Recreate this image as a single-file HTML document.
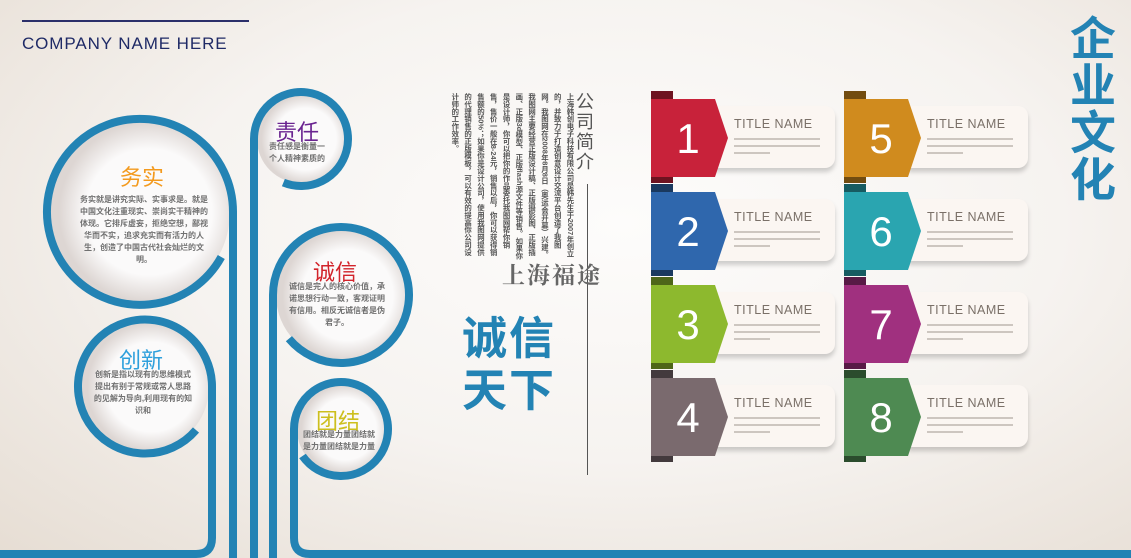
<!DOCTYPE html>
<html><head><meta charset="utf-8"><style>
*{margin:0;padding:0;box-sizing:border-box}
body{width:1131px;height:558px;overflow:hidden;position:relative;font-family:"Liberation Sans","Noto Sans CJK SC",sans-serif;
background:radial-gradient(ellipse at 55% 40%,#fdfcfb 0%,#f6f3f0 50%,#e6ddd3 100%);}
.abs{position:absolute}
.card{position:absolute;width:120px;height:62px;background:#fbf6f2;border-radius:0 10px 10px 0;box-shadow:0 4px 5px rgba(0,0,0,0.18)}
.card .t{position:absolute;left:19px;top:11px;font-size:12.5px;color:#7a7068;letter-spacing:0.5px}
.card .l{position:absolute;left:19px;height:2px;background:#cdc6c0}
.num{position:absolute;color:#fff;font-size:42px;width:62px;text-align:center;font-family:"Liberation Sans",sans-serif}
.ct{position:absolute;font-size:8px;color:#707070;font-weight:bold;text-align:center;line-height:12px}
</style></head><body>
<div class="abs" style="left:22px;top:20px;width:227px;height:2px;background:#2b2f6a"></div>
<div class="abs" style="left:22px;top:34px;font-size:17px;color:#1f2a66;letter-spacing:0.9px">COMPANY NAME HERE</div>

<svg class="abs" style="left:0;top:0" width="1131" height="558">
<defs>
<radialGradient id="g" cx="0.55" cy="0.5" r="0.5"><stop offset="0.7" stop-color="#fbfafa"/><stop offset="1" stop-color="#ddd6d3"/></radialGradient>
</defs>
<g fill="url(#g)">
<circle cx="140" cy="212" r="90"/><circle cx="145" cy="387" r="64"/><circle cx="301" cy="139" r="44"/><circle cx="341" cy="295" r="65"/><circle cx="341" cy="429" r="44"/>
</g>
<g fill="none" stroke="#2383b4" stroke-width="8">
<path d="M221.3 257 A93 93 0 1 1 233 212 L233 558"/>
<path d="M196 430 A67 67 0 1 1 212 387 L212 538 Q212 554 196 554 L0 554"/>
<path d="M283.4 182.6 A47 47 0 1 0 254 139 L254 558"/>
<path d="M288.9 338.7 A68 68 0 1 0 273 295 L273 558"/>
<path d="M302.5 456 A47 47 0 1 0 294 429 L294 538 Q294 554 310 554 L1131 554"/>
</g>
</svg>

<div class="abs" style="left:120px;top:160px;font-size:22px;color:#f39a1e">务实</div>
<div class="ct" style="left:80px;top:194px;width:128px">务实就是讲究实际、实事求是。就是中国文化注重现实、崇尚实干精神的体现。它排斥虚妄，拒绝空想，鄙视华而不实，追求充实而有活力的人生，创造了中国古代社会灿烂的文明。</div>
<div class="abs" style="left:119px;top:343px;font-size:22px;color:#2fa0dc">创新</div>
<div class="ct" style="left:93px;top:369px;width:100px">创新是指以现有的思维模式提出有别于常规或常人思路的见解为导向,利用现有的知识和</div>
<div class="abs" style="left:275px;top:115px;font-size:22px;color:#6a2490">责任</div>
<div class="ct" style="left:269px;top:141px;width:62px;text-align:left">责任感是衡量一个人精神素质的</div>
<div class="abs" style="left:313px;top:255px;font-size:22px;color:#d2232a">诚信</div>
<div class="ct" style="left:288px;top:281px;width:98px">诚信是完人的核心价值，承诺思想行动一致，客观证明有信用。相反无诚信者是伪君子。</div>
<div class="abs" style="left:316px;top:404px;font-size:22px;color:#cdbf1e">团结</div>
<div class="ct" style="left:302px;top:429px;width:74px">团结就是力量团结就是力量团结就是力量</div>

<div class="abs" style="left:1070px;top:16px;width:52px;font-size:46px;line-height:47px;color:#2383b4;font-weight:bold">企业文化</div>

<div class="abs" style="left:576px;top:92px;width:22px;font-size:18px;line-height:20px;color:#555">公司简介</div>
<div class="abs" style="left:587px;top:184px;width:1px;height:291px;background:#555"></div>
<div class="abs" style="left:440px;top:93px;width:136px;height:168px;writing-mode:vertical-rl;font-size:7.4px;line-height:12.8px;color:#555;font-weight:bold">上海韩创电子科技有限公司是韩先生于2007年创立的，并致力于打造创意设计交流平台创造了我图网。我图网在2008年8月8日（奥运会开幕）兴建。我图网主要经营正版设计稿、正版摄影图、正版插画、正版3d模型、正版flash源文件等销售。如果你是设计师，你可以把你的作品委托我图网帮你销售，售价一般在8-24元，销售以后，你可以获得销售额的50%；如果你是设计公司，使用我图网提供的代理销售的正版模板，可以有效的提高你公司设计师的工作效率。</div>
<div class="abs" style="left:502px;top:257px;font-size:23px;color:#666;font-family:'Noto Serif CJK SC',serif;font-weight:bold;letter-spacing:2px">上海福途</div>
<div class="abs" style="left:462px;top:313px;font-size:45px;line-height:52px;color:#2383b4;font-weight:bold;letter-spacing:2px">诚信<br>天下</div>

<div id="cards"></div>
<script>
var cols=[["#c8223a","#2f67ad","#8db92e","#7a6a6e"],["#d08b1e","#2aa5b0","#a0307f","#4e8a52"]];
var tops=[97,190,283,376];var h="";
for(var c=0;c<2;c++)for(var r=0;r<4;r++){var x=651+c*193,y=tops[r],col=cols[c][r];
h+='<div style="position:absolute;left:'+x+'px;top:'+(y-6)+'px;width:22px;height:92px;background:'+col+';filter:brightness(0.55)"></div>';
h+='<div class="card" style="left:'+(x+64)+'px;top:'+(y+9)+'px"><div class="t">TITLE NAME</div><div class="l" style="top:32px;width:86px"></div><div class="l" style="top:39px;width:86px"></div><div class="l" style="top:46px;width:36px"></div></div>';
h+='<svg style="position:absolute;left:'+x+'px;top:'+y+'px" width="80" height="82"><polygon points="0,2 64,2 77,41 64,80 0,80" fill="'+col+'"/></svg>';
h+='<div class="num" style="left:'+(x+6)+'px;top:'+(y+18)+'px">'+(c*4+r+1)+'</div>';}
document.getElementById("cards").innerHTML=h;
</script>
</body></html>
